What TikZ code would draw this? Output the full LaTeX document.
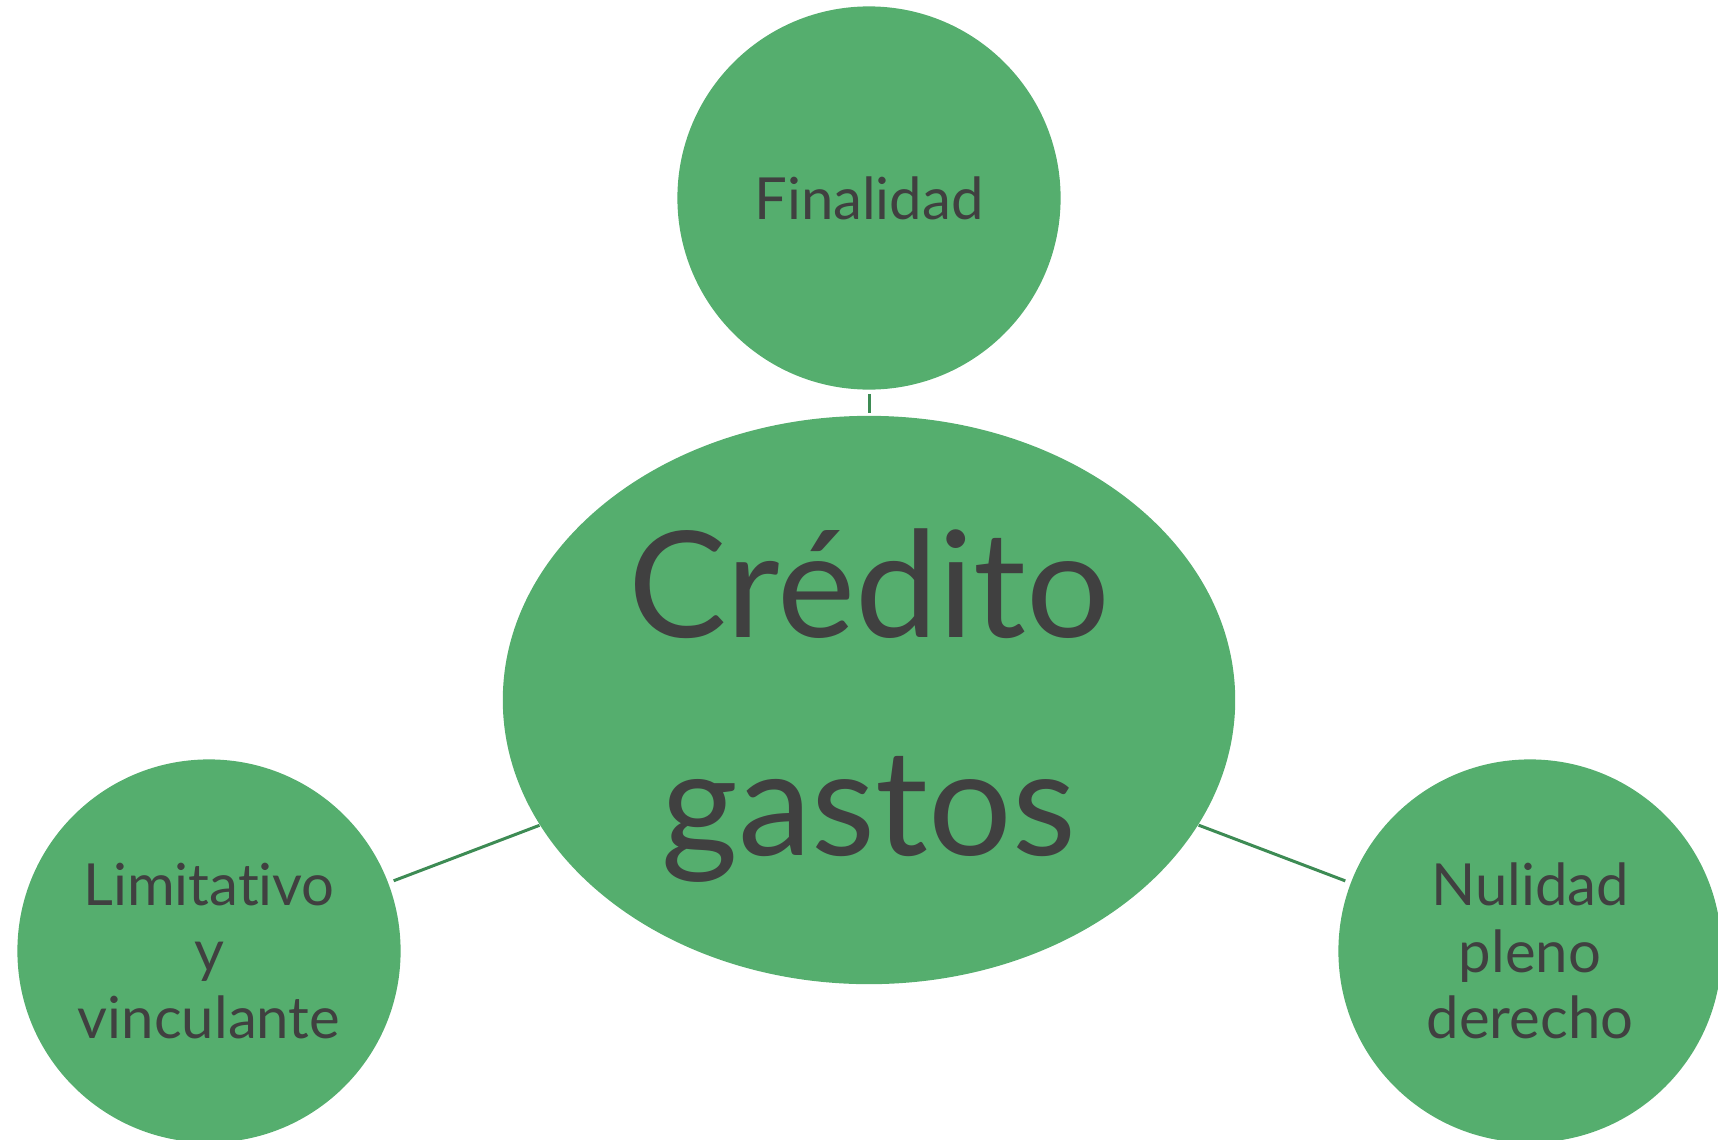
\documentclass[tikz,border=0pt]{standalone}
\usepackage{fontspec}
\setmainfont{Lato}[Ligatures=NoCommon]
\usetikzlibrary{shapes.geometric}
\definecolor{leaf}{HTML}{55AE6E}
\definecolor{stem}{HTML}{3D8B54}
\definecolor{ink}{HTML}{404040}

\begin{document}
\begin{tikzpicture}[x=0.01cm,y=-0.01cm]
    \tikzstyle{bubble}=[circle,fill=leaf,draw=none,text=ink,minimum size=3.83cm,inner sep=0pt,align=center,font={\fontsize{16.5}{19}\selectfont}]
    \tikzstyle{core}=[ellipse,fill=leaf,draw=none,minimum width=7.32cm,minimum height=5.68cm,inner sep=0pt]
    \tikzstyle{big}=[text=ink,align=center,inner sep=0pt,font={\fontsize{42}{62}\selectfont}]
    \tikzstyle{link}=[draw=stem,line width=0.85pt]

    \useasboundingbox (0,0) rectangle (1718,1139);

    % central idea
    \node[core] (cred) at (869,700) {};
    \node[big] (credtxt) at (869,706) {Crédito\\gastos};

    % satellites
    \node[bubble] (fin) at (869,198) {Finalidad};
    \node[bubble] (lim) at (209,951) {Limitativo\\y\\vinculante};
    \node[bubble] (nul) at (1530,951) {Nulidad\\pleno\\derecho};

    % Links
    \path[link,shorten <=1pt,shorten >=0.5pt] (fin) -- (cred);
    \path[link,shorten <=1.5pt] (lim) -- (cred);
    \path[link,shorten >=1.5pt] (cred) -- (nul);
\end{tikzpicture}
\end{document}
